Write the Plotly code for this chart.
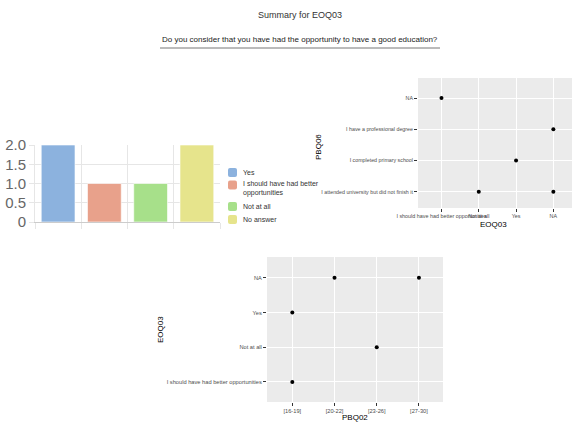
import plotly.graph_objects as go

W, H = 572, 424
FONT = "Liberation Sans, Arial, sans-serif"

# --- bar chart data (EOQ03 answer counts) ---
answer_labels = ["Yes", "I should have had better<br>opportunities", "Not at all", "No answer"]
answer_counts = [2, 1, 1, 2]
answer_colors = ["#8cb2de", "#e8a18b", "#a7e08a", "#e6e48c"]
y_ticks = [0, 0.5, 1.0, 1.5, 2.0]
y_tick_text = ["0", "0.5", "1.0", "1.5", "2.0"]

# --- PBQ06 vs EOQ03 ---
eoq03_cats = ["I should have had better opportunities", "Not at all", "Yes", "NA"]
pbq06_cats = ["I attended university but did not finish it", "I completed primary school",
              "I have a professional degree", "NA"]
p6_x = ["I should have had better opportunities", "NA", "Yes", "Not at all", "NA"]
p6_y = ["NA", "I have a professional degree", "I completed primary school",
        "I attended university but did not finish it", "I attended university but did not finish it"]

# --- EOQ03 vs PBQ02 ---
pbq02_cats = ["[16-19]", "[20-22]", "[23-26]", "[27-30]"]
eoq03_cats_b = ["I should have had better opportunities", "Not at all", "Yes", "NA"]
p2_x = ["[20-22]", "[27-30]", "[16-19]", "[23-26]", "[16-19]"]
p2_y = ["NA", "NA", "Yes", "Not at all", "I should have had better opportunities"]


def px(x):
    return x / W


def py(y):
    return 1 - y / H


fig = go.Figure()

for i, (lab, cnt, col) in enumerate(zip(answer_labels, answer_counts, answer_colors)):
    fig.add_trace(go.Bar(
        x=[i], y=[cnt], name=lab,
        marker=dict(color=col, line=dict(color="rgba(255,255,255,0.6)", width=1)),
        xaxis="x", yaxis="y", showlegend=False, hoverinfo="skip",
    ))

fig.add_trace(go.Scatter(
    x=p6_x, y=p6_y, mode="markers", marker=dict(color="black", size=4),
    xaxis="x2", yaxis="y2", showlegend=False,
))
fig.add_trace(go.Scatter(
    x=p2_x, y=p2_y, mode="markers", marker=dict(color="black", size=4),
    xaxis="x3", yaxis="y3", showlegend=False,
))


def gg_axis(size):
    return dict(
        showgrid=True, gridcolor="white", gridwidth=1, zeroline=False,
        ticks="outside", ticklen=3, tickcolor="#333333", tickwidth=1,
        tickfont=dict(size=size, color="#4d4d4d", family=FONT),
        showline=False, tickangle=0, type="category", automargin=False,
    )


fig.update_layout(
    width=W, height=H, margin=dict(l=0, r=0, t=0, b=0, autoexpand=False),
    paper_bgcolor="white", plot_bgcolor="white",
    font=dict(family=FONT, color="#333333"),
    barmode="overlay", bargap=0.27, showlegend=False,
    xaxis=dict(
        domain=[px(35), px(220)], anchor="y", type="linear", range=[-0.5, 3.5],
        tickvals=[-0.5, 0.5, 1.5, 2.5, 3.5], showticklabels=False, automargin=False,
        showgrid=True, gridcolor="#e6e6e6", zeroline=False,
        ticks="outside", ticklen=6, tickcolor="#e6e6e6", showline=True, linecolor="#cccccc",
    ),
    yaxis=dict(
        domain=[py(222), py(145)], anchor="x", range=[0, 2], automargin=False,
        tickvals=y_ticks, ticktext=y_tick_text,
        tickfont=dict(size=15, color="#666666", family=FONT),
        showgrid=True, gridcolor="#e6e6e6", zeroline=False,
        ticks="outside", ticklen=5, tickcolor="#e6e6e6", showline=True, linecolor="#e6e6e6",
    ),
    xaxis2=dict(
        gg_axis(5.4), domain=[px(418), 1.0], anchor="y2",
        categoryorder="array", categoryarray=eoq03_cats, range=[-0.63, 3.5],
    ),
    yaxis2=dict(
        gg_axis(5.3), domain=[py(208), py(78)], anchor="x2",
        categoryorder="array", categoryarray=pbq06_cats, range=[-0.52, 3.64],
    ),
    xaxis3=dict(
        gg_axis(5.7), domain=[px(267), px(443)], anchor="y3",
        categoryorder="array", categoryarray=pbq02_cats, range=[-0.6, 3.57],
    ),
    yaxis3=dict(
        gg_axis(5.7), domain=[py(402), py(257)], anchor="x3",
        categoryorder="array", categoryarray=eoq03_cats_b, range=[-0.58, 3.6],
    ),
)

# panel backgrounds for the two ggplot-style scatter plots
for xd, yd in [((px(418), 1.0), (py(208), py(78))), ((px(267), px(443)), (py(402), py(257)))]:
    fig.add_shape(type="rect", xref="paper", yref="paper", x0=xd[0], x1=xd[1], y0=yd[0], y1=yd[1],
                  fillcolor="#ebebeb", line=dict(width=0), layer="below")

# axis titles of the scatter panels
axis_titles = [("EOQ03", 493, 224, 0), ("PBQ06", 318, 147, -90),
               ("PBQ02", 355, 417, 0), ("EOQ03", 160, 330, -90)]
for txt, x, y, ang in axis_titles:
    fig.add_annotation(text=txt, xref="paper", yref="paper", x=px(x), y=py(y),
                       xanchor="center", yanchor="middle", textangle=ang, showarrow=False,
                       font=dict(size=8, color="black"))

# legend for the bar chart: rounded swatches with labels
legend_rows = [172.5, 185, 206.5, 219.5]
for lab, col, yc in zip(answer_labels, answer_colors, legend_rows):
    x0, x1, y0, y1, r = 228, 237, yc - 4.5, yc + 4.5, 2
    path = (f"M {px(x0 + r)} {py(y0)} L {px(x1 - r)} {py(y0)} Q {px(x1)} {py(y0)} {px(x1)} {py(y0 + r)} "
            f"L {px(x1)} {py(y1 - r)} Q {px(x1)} {py(y1)} {px(x1 - r)} {py(y1)} "
            f"L {px(x0 + r)} {py(y1)} Q {px(x0)} {py(y1)} {px(x0)} {py(y1 - r)} "
            f"L {px(x0)} {py(y0 + r)} Q {px(x0)} {py(y0)} {px(x0 + r)} {py(y0)} Z")
    fig.add_shape(type="path", xref="paper", yref="paper", path=path, fillcolor=col, line=dict(width=0))
    text_y = yc + 4 if "<br>" in lab else yc
    fig.add_annotation(text=lab, xref="paper", yref="paper", x=px(241), y=py(text_y),
                       xanchor="left", yanchor="middle", align="left", showarrow=False,
                       font=dict(size=7, color="#333333"))

# header, centred over the underline
fig.add_annotation(text="Summary for EOQ03", xref="paper", yref="paper", x=px(300), y=py(15),
                   xanchor="center", yanchor="middle", showarrow=False,
                   font=dict(size=9, color="#333333"))
fig.add_annotation(text="Do you consider that you have had the opportunity to have a good education?",
                   xref="paper", yref="paper", x=px(300), y=py(40), xanchor="center", yanchor="middle",
                   showarrow=False, font=dict(size=8, color="#222222"))
fig.add_shape(type="line", xref="paper", yref="paper", x0=px(160), x1=px(440), y0=py(48), y1=py(48),
              line=dict(color="#777777", width=1))

fig.write_html("out.html")
